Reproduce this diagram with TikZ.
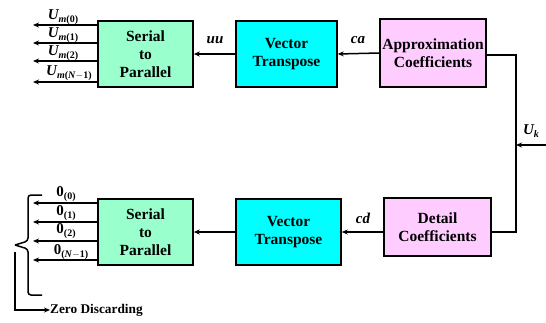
\documentclass[tikz,border=0pt]{standalone}
\usepackage{fontspec}
\setmainfont{Liberation Serif}
\newfontfamily\tnr{Liberation Serif}
\usetikzlibrary{arrows.meta}
\definecolor{mint}{RGB}{153,255,204}
\definecolor{cyanb}{RGB}{0,255,255}
\definecolor{pinkb}{RGB}{255,204,255}
\newcommand\lab[2]{{\bfseries\itshape #1}\raisebox{-3pt}{\fontsize{10}{10}\selectfont\bfseries #2}}
\tikzset{
  blk/.style={draw=black, line width=1.6pt, minimum width=#1, inner sep=0pt, align=center,
     font=\tnr\fontsize{15.5}{18}\selectfont\bfseries},
  conn/.style={line width=1.5pt, -{Stealth[length=6pt,width=5pt]}},
  wire/.style={line width=1.5pt},
  lbl/.style={font=\tnr\fontsize{15}{17}\selectfont, inner sep=0pt},
}
\begin{document}
\begin{tikzpicture}[x=1pt,y=-1pt]
\useasboundingbox (0,0) rectangle (546,322);
% top row
\node[blk=95pt, minimum height=66pt, fill=mint] (s2pT) at (145.5,54) {Serial\\to\\Parallel};
\node[blk=101pt, minimum height=66pt, fill=cyanb] (vtT) at (286.5,54) {Vector\\Transpose};
\node[blk=106pt, minimum height=68pt, fill=pinkb] (acT) at (433,53) {Approximation\\Coefficients};
% bottom row
\node[blk=95pt, minimum height=66pt, fill=mint] (s2pB) at (145.5,232) {Serial\\to\\Parallel};
\node[blk=105pt, minimum height=66pt, fill=cyanb] (vtB) at (288.5,232) {Vector\\Transpose};
\node[blk=107pt, minimum height=58pt, fill=pinkb] (dcB) at (437.5,227) {Detail\\Coefficients};
% input
\coordinate (uin) at (546,145);
\coordinate (junc) at (516,145);
\coordinate (rtop) at (516,55);
\coordinate (rbot) at (516,232);
\draw[wire] (acT.east |- rtop) -- (rtop) -- (rbot) -- (dcB.east |- rbot);
\draw[conn] (uin) -- (junc);
\node[lbl] (ukl) at (531,131) {\lab{U}{\itshape k}};
% horizontal chain
\draw[conn] (acT.west) -- (vtT.east);
\draw[conn] (vtT.west) -- (s2pT.east);
\node[lbl] (cal) at (358,40) {\bfseries\itshape ca};
\node[lbl] (uul) at (215,40) {\bfseries\itshape uu};
\draw[conn] (dcB.west |- vtB.east) -- (vtB.east);
\draw[conn] (vtB.west) -- (s2pB.east);
\node[lbl] (cdl) at (363,218) {\bfseries\itshape cd};
% top outputs
\coordinate (t1) at (33,25);
\coordinate (t2) at (33,43);
\coordinate (t3) at (33,61);
\coordinate (t4) at (33,82);
\foreach \c in {t1,t2,t3,t4}{\draw[conn] (s2pT.west |- \c) -- (\c);}
\node[lbl] (lt1) at (63,17) {\lab{U}{\textit{m}(0)}};
\node[lbl] (lt2) at (63,35) {\lab{U}{\textit{m}(1)}};
\node[lbl] (lt3) at (63,53) {\lab{U}{\textit{m}(2)}};
\node[lbl] (lt4) at (69,73) {\lab{U}{\textit{m}(\textit{N}$-$1)}};
% bottom outputs
\coordinate (b1) at (33,203);
\coordinate (b2) at (33,222);
\coordinate (b3) at (33,241);
\coordinate (b4) at (33,260);
\foreach \c in {b1,b2,b3,b4}{\draw[conn] (s2pB.west |- \c) -- (\c);}
\node[lbl] (lb1) at (66,194) {\bfseries 0\raisebox{-3pt}{\fontsize{10}{10}\selectfont(0)}};
\node[lbl] (lb2) at (66,213) {\bfseries 0\raisebox{-3pt}{\fontsize{10}{10}\selectfont(1)}};
\node[lbl] (lb3) at (66,231) {\bfseries 0\raisebox{-3pt}{\fontsize{10}{10}\selectfont(2)}};
\node[lbl] (lb4) at (71,252) {\bfseries 0\raisebox{-3pt}{\fontsize{10}{10}\selectfont(\textit{N}$-$1)}};
% brace
\draw[wire, rounded corners=3pt] (42,195) -- (28,195) -- (28,241) -- (15,245);
\draw[wire, rounded corners=3pt] (15,245) -- (28,249) -- (28,295) -- (42,295);
% zero discarding
\coordinate (zs) at (15,252);
\coordinate (zc) at (15,310);
\node[font=\tnr\fontsize{13.3}{15}\selectfont\bfseries, anchor=west, inner sep=0pt] (zd) at (50,310) {Zero Discarding};
\draw[conn] (zs) -- (zc) -- (zd.west);
\end{tikzpicture}
\end{document}
